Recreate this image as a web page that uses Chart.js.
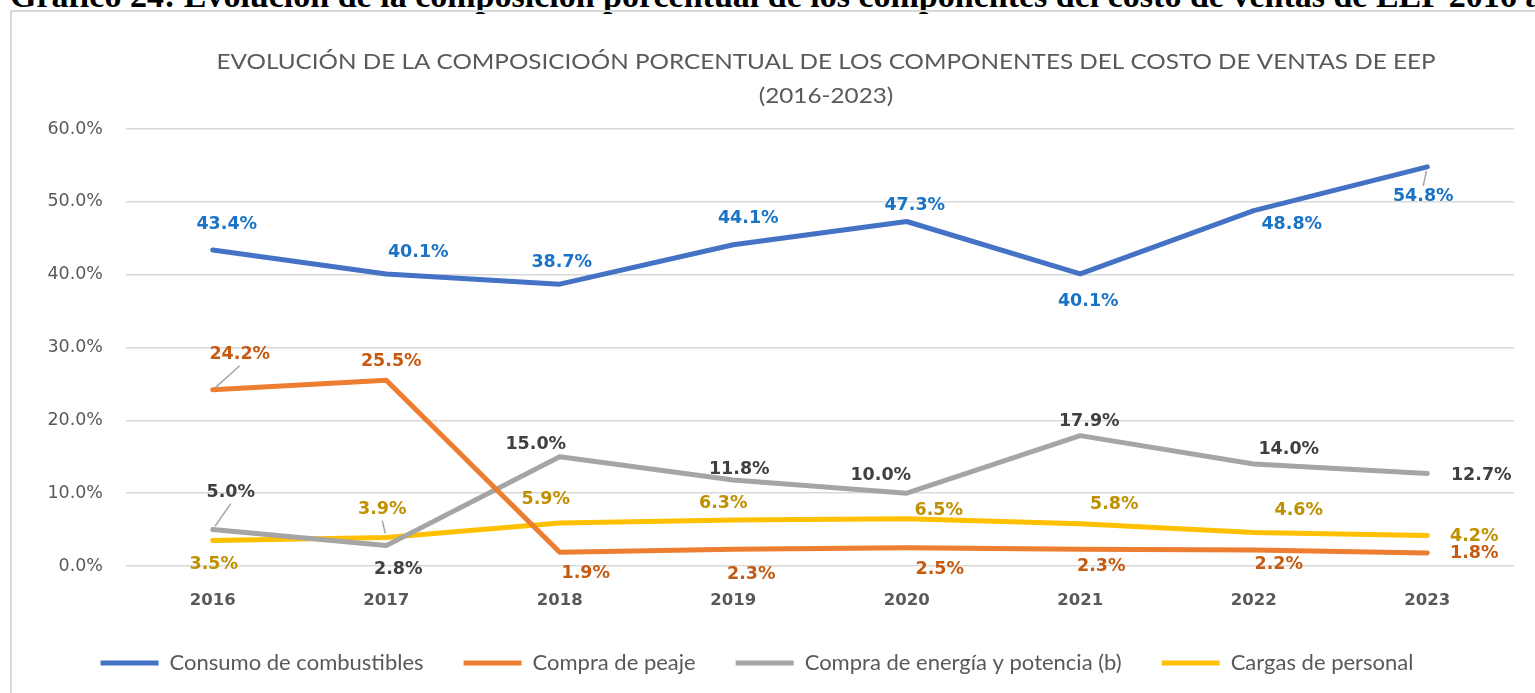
<!DOCTYPE html>
<html>
<head>
<meta charset="utf-8">
<script src="https://cdn.jsdelivr.net/npm/chart.js@4"></script>
<style>
html, body { margin: 0; padding: 0; background: #fff; overflow: hidden; }
#heading {
    position: absolute; left: 10px; top: -21px;
    font: bold 34px 'Liberation Serif', 'Times New Roman', serif;
    line-height: 34px; white-space: nowrap; color: #000;
}
#frame {
    position: absolute; left: 10px; top: 10px; width: 1600px; height: 800px;
    border: 2px solid #d9d9d9; box-sizing: border-box;
}
#wrap { position: absolute; left: 0; top: 0; width: 1535px; height: 693px; }
</style>
</head>
<body>
<div id="heading">Gráfico 24: Evolución de la composición porcentual de los componentes del costo de ventas de EEP 2016 a 2023</div>
<div id="frame"></div>
<div id="wrap"><canvas id="chart"></canvas></div>
<script>
// values (percent)
var years = ['2016', '2017', '2018', '2019', '2020', '2021', '2022', '2023'];
var combustibles = [43.4, 40.1, 38.7, 44.1, 47.3, 40.1, 48.8, 54.8];
var peaje = [24.2, 25.5, 1.9, 2.3, 2.5, 2.3, 2.2, 1.8];
var energia = [5.0, 2.8, 15.0, 11.8, 10.0, 17.9, 14.0, 12.7];
var personal = [3.5, 3.9, 5.9, 6.3, 6.5, 5.8, 4.6, 4.2];

var titleLines = [
    'EVOLUCIÓN DE LA COMPOSICIOÓN PORCENTUAL DE LOS COMPONENTES DEL COSTO DE VENTAS DE EEP',
    '(2016-2023)'
];

function serie(label, values, color, textColor, offsets, leaders) {
    return {
        label: label,
        data: values,
        borderColor: color,
        backgroundColor: color,
        borderWidth: 5,
        borderCapStyle: 'round',
        borderJoinStyle: 'round',
        pointRadius: 0,
        pointHoverRadius: 0,
        tension: 0,
        textColor: textColor,
        labelOffsets: offsets,
        leaders: leaders
    };
}

var data = {
    labels: years,
    datasets: [
        serie('Consumo de combustibles', combustibles, '#4472C4', '#1A73C4',
            [[14, -25], [32, -21], [2, -22], [15, -26], [8, -16], [8, 28], [38, 14], [-4, 30]], [7]),
        serie('Compra de peaje', peaje, '#ED7D31', '#C55A11',
            [[27, -35], [5, -19], [26, 21], [18, 25], [33, 22], [21, 17], [25, 14], [47, 1]], [0]),
        serie('Compra de energía y potencia (b)', energia, '#A5A5A5', '#404040',
            [[18, -37], [12, 24], [-24, -12], [6, -11], [-26, -18], [9, -14], [35, -15], [54, 2]], [0]),
        serie('Cargas de personal', personal, '#FFC000', '#BF9000',
            [[1, 24], [-4, -28], [-14, -24], [-10, -17], [32, -8], [34, -19], [45, -22], [47, 1]], [1])
    ]
};

// chart title, stretched to the width it has in the picture
var titlePlugin = {
    id: 'titleText',
    afterDraw: function (chart) {
        let ctx = chart.ctx;
        ctx.save();
        ctx.font = '22px Lato, "Liberation Sans", sans-serif';
        ctx.fillStyle = '#595959';
        ctx.textAlign = 'center';
        ctx.textBaseline = 'middle';
        let k = 1219 / ctx.measureText(titleLines[0]).width;
        ctx.translate(826, 0);
        ctx.scale(k, 1);
        ctx.fillText(titleLines[0], 0, 62);
        ctx.fillText(titleLines[1], 0, 96);
        ctx.restore();
    }
};

// value labels next to each point, with small leader lines where Excel had them
var valueLabels = {
    id: 'valueLabels',
    afterDatasetsDraw: function (chart) {
        let ctx = chart.ctx;
        ctx.save();
        ctx.font = 'bold 17.5px "DejaVu Sans", Verdana, sans-serif';
        ctx.textAlign = 'center';
        ctx.textBaseline = 'middle';
        chart.data.datasets.forEach(function (ds, d) {
            let meta = chart.getDatasetMeta(d);
            meta.data.forEach(function (pt, i) {
                let off = ds.labelOffsets[i];
                let lx = pt.x + off[0];
                let ly = pt.y + off[1];
                if (ds.leaders.indexOf(i) >= 0) {
                    let ey = ly + (off[1] < 0 ? 11 : -11);
                    let vx = lx - pt.x, vy = ey - pt.y;
                    let len = Math.sqrt(vx * vx + vy * vy);
                    ctx.strokeStyle = '#A6A6A6';
                    ctx.lineWidth = 1.5;
                    ctx.beginPath();
                    ctx.moveTo(pt.x + vx / len * 4, pt.y + vy / len * 4);
                    ctx.lineTo(lx, ey);
                    ctx.stroke();
                }
                ctx.fillStyle = ds.textColor;
                ctx.fillText(ds.data[i].toFixed(1) + '%', lx, ly);
            });
        });
        ctx.restore();
    }
};

let canvas = document.getElementById('chart');

let config = {
    type: 'line',
    data: data,
    plugins: [titlePlugin, valueLabels],
    options: {
        responsive: true,
        maintainAspectRatio: false,
        animation: false,
        layout: {
            padding: { left: 0, right: 21, top: 129, bottom: 9 }
        },
        plugins: {
            title: { display: false },
            tooltip: { enabled: false },
            legend: {
                position: 'bottom',
                labels: {
                    usePointStyle: true,
                    pointStyle: 'line',
                    pointStyleWidth: 58,
                    padding: 40,
                    color: '#595959',
                    font: { family: 'Lato, "Liberation Sans", sans-serif', size: 22 }
                }
            }
        },
        scales: {
            x: {
                offset: true,
                grid: { display: false, offset: true },
                border: { display: false },
                ticks: {
                    color: '#595959',
                    padding: 17,
                    font: { family: '"DejaVu Sans", Verdana, sans-serif', size: 16.5, weight: 'bold' }
                },
                afterFit: function (scale) { scale.height = 46; }
            },
            y: {
                min: 0,
                max: 60,
                grid: { color: '#d9d9d9', lineWidth: 1.5, drawTicks: false },
                border: { display: false },
                ticks: {
                    stepSize: 10,
                    color: '#595959',
                    padding: 23,
                    font: { family: '"DejaVu Sans", Verdana, sans-serif', size: 17.5 },
                    callback: function (v) { return v.toFixed(1) + '%'; }
                },
                afterFit: function (scale) { scale.width = 126; }
            }
        }
    }
};

var lineChart = new Chart(canvas, config);
</script>
</body>
</html>
